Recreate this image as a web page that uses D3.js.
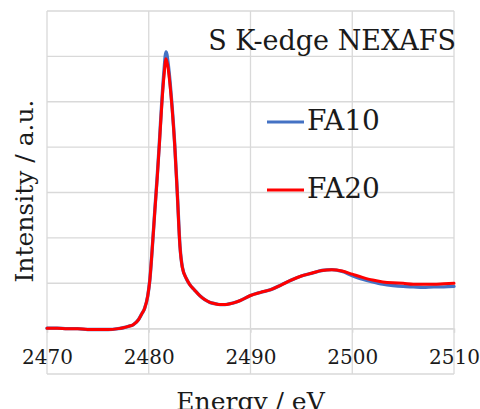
<!DOCTYPE html>
<html>
<head>
<meta charset="utf-8">
<script src="https://cdn.jsdelivr.net/npm/d3@7"></script>
<style>
  html, body { margin: 0; padding: 0; background: #fff; }
  svg { display: block; }
</style>
</head>
<body>
<svg id="chart" width="480" height="409"></svg>
<script>
// ---- data ----
const energy = [2470, 2471, 2472, 2473, 2474, 2475, 2476, 2477, 2477.5, 2478, 2478.5, 2479, 2479.3, 2479.6, 2479.9,
  2480.1, 2480.4, 2480.6, 2480.84, 2481.04, 2481.27, 2481.5, 2481.7, 2481.9, 2482.1, 2482.3, 2482.55, 2482.8,
  2483.07, 2483.3, 2483.7, 2484, 2484.5, 2485, 2485.5, 2486, 2486.5, 2487, 2487.5, 2488, 2488.5, 2489, 2490,
  2491, 2492, 2493, 2494, 2495, 2496, 2497, 2498, 2499, 2500, 2501, 2502, 2503, 2504, 2505, 2506, 2507, 2508, 2509, 2510];
const fa20 = [0.01, 0.01, 0.0, 0.0, -0.02, -0.02, -0.02, 0.0, 0.02, 0.05, 0.09, 0.2, 0.32, 0.45, 0.72,
  1.06, 1.95, 2.6, 3.35, 4.05, 4.9, 5.58, 5.95, 5.75, 5.35, 4.85, 4.05, 3.0,
  1.8, 1.35, 1.1, 0.98, 0.85, 0.73, 0.64, 0.58, 0.55, 0.53, 0.53, 0.55, 0.58, 0.62, 0.73,
  0.8, 0.86, 0.96, 1.07, 1.16, 1.22, 1.28, 1.3, 1.27, 1.2, 1.13, 1.07, 1.03, 1.01, 1.0, 0.98, 0.98, 0.98, 0.99, 1.0];
const fa10 = [0.01, 0.01, 0.0, 0.0, -0.02, -0.02, -0.02, 0.0, 0.02, 0.05, 0.09, 0.2, 0.32, 0.45, 0.72,
  1.06, 1.95, 2.62, 3.38, 4.08, 4.95, 5.68, 6.1, 5.85, 5.42, 4.88, 4.07, 3.02,
  1.82, 1.36, 1.1, 0.98, 0.85, 0.73, 0.64, 0.58, 0.55, 0.53, 0.53, 0.55, 0.58, 0.62, 0.73,
  0.8, 0.86, 0.96, 1.07, 1.16, 1.22, 1.28, 1.3, 1.26, 1.17, 1.09, 1.03, 0.98, 0.95, 0.93, 0.92, 0.91, 0.92, 0.92, 0.93];
const xTicks = [2470, 2480, 2490, 2500, 2510];
const yGrid = [-1, 0, 1, 2, 3, 4, 5, 6, 7];
const seriesNames = ["FA10", "FA20"];
const seriesColors = ["#4472C4", "#FF0000"];
const titleText = "S K-edge NEXAFS";
const xLabel = "Energy / eV";
const yLabel = "Intensity / a.u.";

// ---- drawing ----
const FONT = "DejaVu Serif";
const svg = d3.select("#chart").attr("font-family", FONT);
const x = d3.scaleLinear().domain([2470, 2510]).range([47, 454]);
const y = d3.scaleLinear().domain([-1, 7]).range([374, 11]);
const gridColor = "#d9d9d9";
const textColor = "#1a1a1a";

// horizontal gridlines
svg.append("g").selectAll("line").data(yGrid).join("line")
  .attr("x1", x(2470)).attr("x2", x(2510))
  .attr("y1", d => y(d)).attr("y2", d => y(d))
  .attr("stroke", gridColor).attr("stroke-width", 1.3);

// vertical gridlines
svg.append("g").selectAll("line").data(xTicks).join("line")
  .attr("x1", d => x(d)).attr("x2", d => x(d))
  .attr("y1", y(7)).attr("y2", y(-1))
  .attr("stroke", gridColor).attr("stroke-width", 1.3);

// x axis at y=0
const xAxis = svg.append("g").attr("transform", `translate(0,${y(0)})`)
  .call(d3.axisBottom(x).tickValues(xTicks).tickSize(4).tickPadding(17).tickFormat(d3.format("d")));
xAxis.attr("font-family", FONT).attr("font-size", 20);
xAxis.select(".domain").attr("stroke", gridColor).attr("stroke-width", 1.3);
xAxis.selectAll(".tick line").attr("stroke", gridColor).attr("stroke-width", 1.3);
xAxis.selectAll(".tick text")
  .attr("font-family", FONT)
  .attr("font-size", 20).attr("fill", textColor).attr("dy", "0.71em");

// lines
const data = [fa10, fa20];
const lineGen = d3.line().x((d, i) => x(energy[i])).y(d => y(d)).curve(d3.curveMonotoneX);
svg.append("g").selectAll("path").data(data).join("path")
  .attr("d", d => lineGen(d))
  .attr("fill", "none")
  .attr("stroke", (d, i) => seriesColors[i])
  .attr("stroke-width", (d, i) => i === 0 ? 3.4 : 3)
  .attr("stroke-linejoin", "round").attr("stroke-linecap", "round");

// title
svg.append("text").attr("x", 456).attr("y", 50).attr("text-anchor", "end")
  .attr("font-family", FONT).attr("fill", textColor)
  .attr("font-size", 27).text(titleText);

// legend
const legendY = [122, 190];
seriesNames.forEach((name, i) => {
  svg.append("line").attr("x1", 267).attr("x2", 304)
    .attr("y1", legendY[i]).attr("y2", legendY[i])
    .attr("stroke", seriesColors[i]).attr("stroke-width", 3);
  svg.append("text").attr("x", 307).attr("y", legendY[i] + 8)
    .attr("font-family", FONT).attr("fill", textColor)
    .attr("font-size", 28).text(name);
});

// axis titles
svg.append("text").attr("x", 250.5).attr("y", 410).attr("text-anchor", "middle")
  .attr("font-family", FONT).attr("fill", textColor)
  .attr("font-size", 25).text(xLabel);
svg.append("text").attr("transform", "translate(33,191) rotate(-90)")
  .attr("text-anchor", "middle")
  .attr("font-family", FONT).attr("fill", textColor)
  .attr("font-size", 25).text(yLabel);
</script>
</body>
</html>
